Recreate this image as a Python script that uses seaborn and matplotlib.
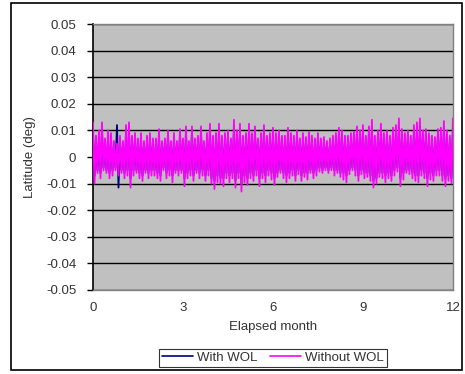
import numpy as np
import pandas as pd
import matplotlib
matplotlib.use("Agg")
import matplotlib.pyplot as plt
import seaborn as sns
from matplotlib.patches import Rectangle
from matplotlib.lines import Line2D

# ---- data (values in millidegrees, one upper and one lower extreme per 0.1 month) ----
months = np.round(np.arange(0, 121) * 0.1, 2)

without_up = [13, 8, 10, 13, 7, 10, 9, 6, 5, 8, 6, 12, 13, 8, 9, 7, 9, 6, 8, 9, 7,
              7, 10.5, 6, 7, 10, 6, 9, 6, 10.5, 7, 11.5, 6, 11.5, 7, 8, 11.5, 6, 9, 12.5, 8,
              9, 12.5, 8, 9, 10, 7, 14, 10, 12.5, 8, 9, 12.5, 9, 11.5, 7, 9, 12, 8, 9, 11,
              9, 10, 8, 8, 11, 9, 8, 10, 7, 9, 7.5, 9.5, 8, 7, 9, 7, 7.5, 6, 7, 8,
              9, 11, 10, 8, 8, 9, 9.5, 11.5, 10, 12, 8, 11.5, 14, 8, 10, 12.5, 9, 10, 8, 11,
              12, 14.5, 10.5, 9, 10, 8, 12, 13, 14.5, 10, 10.5, 9, 8, 7.5, 10.5, 11, 13.5, 10, 8, 14.5]
without_low = [-10, -6, -8, -5, -6, -8, -7, -5, -7, -6, -8, -7, -11.5, -7, -6, -8, -9, -6, -8, -7, -7,
               -8, -9, -5, -8, -7, -9.5, -6, -7, -6, -11, -8, -7, -9, -6, -8, -7, -9, -7, -10, -12,
               -9.5, -10, -11, -8, -9.5, -8, -11.5, -8, -13, -9.5, -10.5, -8, -9, -7, -11, -8, -9.5, -7, -8.5, -10.5,
               -7.5, -6, -8, -9.5, -8, -7, -9, -6.5, -9, -7.5, -8.5, -6, -8, -7, -5.5, -6, -5, -6, -5, -7,
               -6, -7.5, -8.5, -9.5, -6.5, -5, -7, -9, -6.5, -8, -7.5, -9, -11.5, -10, -7.5, -8, -9.5, -8, -9, -7,
               -5.5, -11, -8.5, -6, -6.5, -8, -9, -9.5, -7, -8, -11, -8.5, -9, -7, -7, -9, -11, -9, -10, -12]

with_up = [9, 6, 7, 9, 5, 7, 6, 5, 12, 6, 5, 8, 9, 6, 7, 5, 7, 5, 6, 7, 5,
           5, 8, 5, 6, 8, 5, 7, 5, 8, 6, 9, 5, 9, 6, 6, 9, 5, 7, 9, 6,
           7, 9, 6, 7, 8, 6, 10, 8, 9, 6, 7, 9, 7, 9, 6, 7, 9, 6, 7, 8,
           7, 8, 6, 6, 8, 7, 6, 8, 6, 7, 6, 7, 6, 5, 7, 5, 6, 5, 5, 6,
           7, 8, 8, 6, 6, 7, 7, 9, 8, 9, 6, 9, 10, 6, 8, 9, 7, 8, 6, 8,
           9, 10, 8, 7, 8, 6, 9, 10, 10, 8, 8, 7, 6, 6, 8, 8, 10, 8, 6, 10]
with_low = [-7, -5, -6, -4, -5, -6, -5, -4, -11.5, -5, -6, -5, -8, -5, -5, -6, -7, -5, -6, -5, -5,
            -6, -7, -4, -6, -5, -7, -5, -5, -5, -8, -6, -5, -7, -5, -6, -5, -7, -5, -8, -9,
            -7, -8, -8, -6, -7, -6, -9, -6, -10, -7, -8, -6, -7, -5, -8, -6, -7, -5, -6, -8,
            -6, -5, -6, -7, -6, -5, -7, -5, -7, -6, -6, -5, -6, -5, -4, -5, -4, -5, -4, -5,
            -5, -6, -6, -7, -5, -4, -5, -7, -5, -6, -6, -7, -9, -8, -6, -6, -7, -6, -7, -5,
            -4, -8, -6, -5, -5, -6, -7, -7, -5, -6, -8, -6, -7, -5, -5, -7, -8, -7, -8, -9]

series_names = ["With WOL", "Without WOL"]
series_colors = ["#000080", "#FF00FF"]
y_ticks = [-0.05, -0.04, -0.03, -0.02, -0.01, 0, 0.01, 0.02, 0.03, 0.04, 0.05]
y_tick_labels = ["-0.05", "-0.04", "-0.03", "-0.02", "-0.01", "0", "0.01", "0.02", "0.03", "0.04", "0.05"]
x_ticks = [0, 3, 6, 9, 12]

# ---- build long table ----
def trace(up, low, name):
    xs, ys = [], []
    for t, u, l in zip(months, up, low):
        xs += [t, t + 0.05]
        ys += [u / 1000.0, l / 1000.0]
    return pd.DataFrame({"month": xs, "lat": ys, "series": name})

df = pd.concat([trace(with_up, with_low, series_names[0]),
                trace(without_up, without_low, series_names[1])], ignore_index=True)

sns.set_theme(style="white")
plt.rcParams["font.family"] = ["Liberation Sans", "DejaVu Sans"]

FS = 9.5
TXT = "#333333"

fig = plt.figure(figsize=(4.65, 3.74), dpi=100)
ax = fig.add_axes([0.2, 0.2246, 0.774, 0.7112])
ax.set_facecolor("#C0C0C0")

sns.lineplot(data=df, x="month", y="lat", hue="series", hue_order=series_names,
             palette=series_colors, estimator=None, sort=True, linewidth=1.3,
             ax=ax, legend=False, zorder=3)

ax.set_xlim(0, 12)
ax.set_ylim(-0.05, 0.05)
ax.set_yticks(y_ticks)
ax.set_yticklabels(y_tick_labels)
ax.set_xticks(x_ticks)
ax.set_xticklabels([str(v) for v in x_ticks])
for yv in y_ticks:
    ax.axhline(yv, color="black", linewidth=1.0, zorder=2)

for s in ["top", "right", "bottom"]:
    ax.spines[s].set_color("#808080")
    ax.spines[s].set_linewidth(1.0)
ax.spines["left"].set_color("black")
ax.spines["left"].set_linewidth(1.2)

ax.tick_params(axis="y", which="both", left=True, length=4, width=1, color="black",
               labelsize=FS, pad=8, labelcolor=TXT)
ax.tick_params(axis="x", which="both", bottom=False, length=0, labelsize=FS, pad=9,
               labelcolor=TXT)
ax.set_xlabel("Elapsed month", fontsize=FS, labelpad=5, color=TXT)
ax.set_ylabel("Latitude (deg)", fontsize=FS, labelpad=7, color=TXT)

handles = [Line2D([0], [0], color=c, linewidth=1.2) for c in series_colors]
leg = fig.legend(handles, series_names, loc="center", bbox_to_anchor=(0.587, 0.043),
                 ncol=2, frameon=True, fontsize=FS, handlelength=2.3, handletextpad=0.3,
                 columnspacing=1.0, borderpad=0.25, fancybox=False)
leg.get_frame().set_edgecolor("black")
leg.get_frame().set_linewidth(0.8)
for txt in leg.get_texts():
    txt.set_color(TXT)

fig.patches.append(Rectangle((11 / 465, 4 / 374), 451 / 465, 367 / 374,
                             transform=fig.transFigure, fill=False,
                             edgecolor="black", linewidth=1.2))

fig.savefig("out.png", dpi=100)
